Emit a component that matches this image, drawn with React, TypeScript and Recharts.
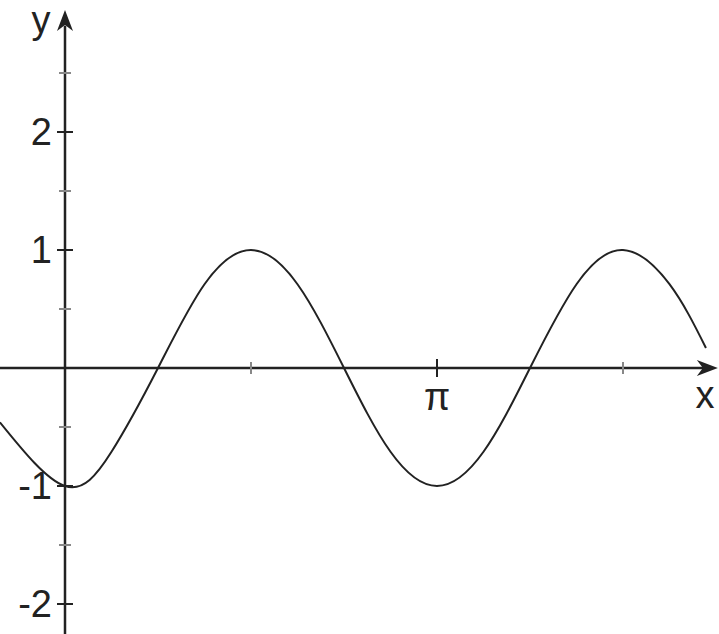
import { LineChart, Line, XAxis, YAxis, ReferenceLine, ReferenceDot } from "recharts";

// x is stored in units of π
const xPi = [-0.175, 0, 0.125, 0.25, 0.375, 0.5, 0.625, 0.75, 0.875, 1, 1.125, 1.25, 1.375, 1.5, 1.625, 1.723];
const yVals = [-0.46, -1, -0.71, 0, 0.71, 1, 0.71, 0, -0.71, -1, -0.71, 0, 0.71, 1, 0.71, 0.17];

const yMajorTicks = [-2, -1, 1, 2];
const yMinorTicks = [-1.5, -0.5, 0.5, 1.5, 2.5];
const yTickLabels = ["-2", "-1", "1", "2"];
const xMajorTicks = [1];
const xMinorTicks = [0.5, 1.5];
const xTickLabels = ["π"];

const data = xPi.map((x, i) => ({ x, y: yVals[i] }));

const X_DOMAIN: [number, number] = [-65 / 372, 654 / 372];
const Y_DOMAIN: [number, number] = [-266 / 118, 368 / 118];

const INK = "#222";
const FONT = "'Liberation Sans', Arial, sans-serif";

const hTick = (half: number, color: string) => (p: any) => (
  <line x1={p.cx - half} y1={p.cy} x2={p.cx + half} y2={p.cy} stroke={color} strokeWidth={2} />
);
const vTick = (half: number, color: string) => (p: any) => (
  <line x1={p.cx} y1={p.cy - half} x2={p.cx} y2={p.cy + half} stroke={color} strokeWidth={2} />
);
const label = (text: string, dx: number, dy: number, anchor: string) => (p: any) => (
  <text x={p.cx + dx} y={p.cy + dy} textAnchor={anchor} fontFamily={FONT} fontSize={38} fill={INK}>
    {text}
  </text>
);
const arrowRight = (p: any) => (
  <path d={`M${p.cx},${p.cy} L${p.cx - 21},${p.cy - 8} L${p.cx - 15},${p.cy} L${p.cx - 21},${p.cy + 8} Z`} fill={INK} />
);
const arrowUp = (p: any) => (
  <path d={`M${p.cx},${p.cy} L${p.cx - 8},${p.cy + 21} L${p.cx},${p.cy + 15} L${p.cx + 8},${p.cy + 21} Z`} fill={INK} />
);

export default function App() {
  return (
    <div style={{ position: "absolute", left: 0, top: 0, background: "#fff" }}>
      <LineChart width={719} height={634} data={data} margin={{ top: 0, right: 0, bottom: 0, left: 0 }}>
        <XAxis dataKey="x" type="number" domain={X_DOMAIN} allowDataOverflow hide />
        <YAxis type="number" domain={Y_DOMAIN} allowDataOverflow hide />

        <ReferenceLine segment={[{ x: X_DOMAIN[0], y: 0 }, { x: 1.72, y: 0 }]} stroke={INK} strokeWidth={2.5} />
        <ReferenceLine segment={[{ x: 0, y: Y_DOMAIN[0] }, { x: 0, y: 2.9 }]} stroke={INK} strokeWidth={2.5} />
        <ReferenceDot x={1.755} y={0} shape={arrowRight} />
        <ReferenceDot x={0} y={3.034} shape={arrowUp} />

        {yMajorTicks.map((v) => (
          <ReferenceDot key={"ym" + v} x={0} y={v} shape={hTick(8, INK)} />
        ))}
        {yMinorTicks.map((v) => (
          <ReferenceDot key={"yn" + v} x={0} y={v} shape={hTick(6, "#888")} />
        ))}
        {yMajorTicks.map((v, i) => (
          <ReferenceDot key={"yl" + v} x={0} y={v} shape={label(yTickLabels[i], -13, 13, "end")} />
        ))}
        {xMajorTicks.map((v) => (
          <ReferenceDot key={"xm" + v} x={v} y={0} shape={vTick(9, INK)} />
        ))}
        {xMinorTicks.map((v) => (
          <ReferenceDot key={"xn" + v} x={v} y={0} shape={vTick(6, "#888")} />
        ))}
        {xMajorTicks.map((v, i) => (
          <ReferenceDot key={"xl" + v} x={v} y={0} shape={label(xTickLabels[i], 0, 42, "middle")} />
        ))}
        <ReferenceDot x={1.723} y={0} shape={label("x", -1, 40, "middle")} />
        <ReferenceDot x={0} y={3.034} shape={label("y", -24, 23, "middle")} />

        <Line
          type="natural"
          dataKey="y"
          stroke={INK}
          strokeWidth={2}
          dot={false}
          isAnimationActive={false}
        />
      </LineChart>
    </div>
  );
}
